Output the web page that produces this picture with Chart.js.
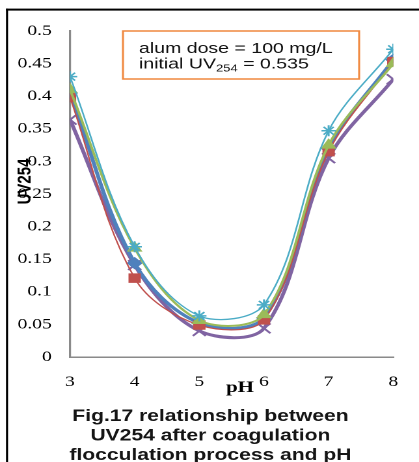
<!DOCTYPE html>
<html>
<head>
<meta charset="utf-8">
<script src="https://cdn.jsdelivr.net/npm/chart.js@4.4.1/dist/chart.umd.min.js"></script>
<style>
html, body { margin: 0; padding: 0; background: #fff; overflow: hidden; }
/* the reference is stretched sideways, so draw narrow and widen */
#wrap { width: 322px; height: 462px; transform: scaleX(1.3012); transform-origin: 0 0; }
</style>
</head>
<body>
<div id="wrap"><canvas id="chart" width="322" height="462" style="width:322px;height:462px"></canvas></div>
<script>
const phValues = [3, 4, 5, 6, 7, 8];
const xTicks = [3, 4, 5, 6, 7, 8];
const yTicks = [0, 0.05, 0.1, 0.15, 0.2, 0.25, 0.3, 0.35, 0.4, 0.45, 0.5];
const yTickLabels = ['0', '0.05', '0.1', '0.15', '0.2', '0.25', '0.3', '0.35', '0.4', '0.45', '0.5'];

const blueVals = [0.405, 0.144, 0.052, 0.060, 0.320, 0.456];
const redVals = [0.398, 0.121, 0.049, 0.057, 0.315, 0.453];
const greenVals = [0.410, 0.167, 0.056, 0.065, 0.325, 0.450];
const purpleVals = [0.364, 0.141, 0.040, 0.044, 0.305, 0.426];
const cyanVals = [0.430, 0.169, 0.063, 0.080, 0.347, 0.472];

const blue = '#4F81BD';
const red = '#C0504D';
const green = '#9BBB59';
const purple = '#8064A2';
const cyan = '#4BACC6';
const axisGray = '#8a8a8a';

const pts = (vals) => phValues.map((x, i) => ({ x: x, y: vals[i] }));

function series(vals, color, style, radius, width, bw, order) {
    return {
        data: pts(vals),
        borderColor: color,
        backgroundColor: color,
        borderWidth: width,
        pointStyle: style,
        pointRadius: radius,
        pointBackgroundColor: color,
        pointBorderColor: color,
        pointBorderWidth: bw,
        tension: 0.35,
        order: order
    };
}

const extras = {
    id: 'extras',
    beforeDraw(chart) {
        const ctx = chart.ctx;
        ctx.save();
        ctx.fillStyle = '#fff';
        ctx.fillRect(0, 0, chart.width, chart.height);
        // outer frame (only left and top fall inside the picture)
        ctx.fillStyle = '#000';
        ctx.fillRect(4.6, 8.6, 1.6, chart.height);
        ctx.fillRect(4.6, 8.6, chart.width, 2);
        ctx.restore();
    },
    afterDraw(chart) {
        const ctx = chart.ctx;
        ctx.save();

        // note box
        ctx.strokeStyle = '#F0883E';
        ctx.lineWidth = 1.5;
        ctx.strokeRect(94.5, 31, 181.5, 48);
        ctx.fillStyle = '#111';
        ctx.textBaseline = 'alphabetic';
        ctx.textAlign = 'left';
        ctx.font = '15px "Liberation Sans", Arial, sans-serif';
        ctx.fillText('alum dose = 100 mg/L', 106.8, 53);
        let x = 106.8;
        ctx.fillText('initial UV', x, 68.5);
        x += ctx.measureText('initial UV').width;
        ctx.font = '10px "Liberation Sans", Arial, sans-serif';
        ctx.fillText('254', x, 71.5);
        x += ctx.measureText('254').width;
        ctx.font = '15px "Liberation Sans", Arial, sans-serif';
        ctx.fillText(' = 0.535', x, 68.5);

        // axis titles
        ctx.fillStyle = '#000';
        ctx.textAlign = 'center';
        ctx.textBaseline = 'middle';
        ctx.font = 'bold 16px "Liberation Serif", "Times New Roman", serif';
        ctx.fillText('pH', 184.4, 388);

        ctx.save();
        ctx.translate(19.6, 181.5);
        ctx.rotate(-Math.PI / 2);
        ctx.font = 'bold 15px "Liberation Sans", Arial, sans-serif';
        ctx.fillText('UV254', 0, 0);
        ctx.restore();

        // caption
        ctx.fillStyle = '#151515';
        ctx.textBaseline = 'alphabetic';
        ctx.font = 'bold 16.2px "Liberation Sans", Arial, sans-serif';
        ctx.fillText('Fig.17 relationship between', 161.7, 421);
        ctx.fillText('UV254 after coagulation', 161.7, 440.5);
        ctx.fillText('flocculation process and pH', 161.7, 460);

        ctx.restore();
    }
};

new Chart(document.getElementById('chart'), {
    type: 'line',
    data: {
        datasets: [
            series(cyanVals, cyan, 'star', 5.5, 1.3, 1.5, 0),
            series(greenVals, green, 'triangle', 6, 2, 1, 1),
            series(redVals, red, 'rect', 6, 1.2, 1, 2),
            series(blueVals, blue, 'rectRot', 5.5, 3, 1, 3),
            series(purpleVals, purple, 'crossRot', 7, 3, 1.8, 4)
        ]
    },
    options: {
        responsive: false,
        animation: false,
        devicePixelRatio: 2,
        layout: { padding: { top: 31, right: 9.2, bottom: 0, left: 0 } },
        plugins: {
            legend: { display: false },
            tooltip: { enabled: false }
        },
        scales: {
            x: {
                type: 'linear',
                min: 3,
                max: 8,
                afterBuildTicks: (s) => { s.ticks = xTicks.map(v => ({ value: v })); },
                afterFit: (s) => { s.height = 105; },
                grid: { display: false, drawTicks: false },
                border: { display: true, color: axisGray, width: 1.5 },
                ticks: {
                    padding: 16,
                    color: '#000',
                    autoSkip: false,
                    maxRotation: 0,
                    font: { family: 'Liberation Serif', size: 15 },
                    callback: (v) => String(v)
                }
            },
            y: {
                type: 'linear',
                min: 0,
                max: 0.5,
                afterBuildTicks: (s) => { s.ticks = yTicks.map(v => ({ value: v })); },
                afterFit: (s) => { s.width = 53.8; },
                grid: { display: false, drawTicks: false },
                border: { display: true, color: axisGray, width: 1.6 },
                ticks: {
                    padding: 14,
                    color: '#000',
                    autoSkip: false,
                    font: { family: 'Liberation Serif', size: 15 },
                    callback: (v, i) => yTickLabels[i]
                }
            }
        }
    },
    plugins: [extras]
});
</script>
</body>
</html>
